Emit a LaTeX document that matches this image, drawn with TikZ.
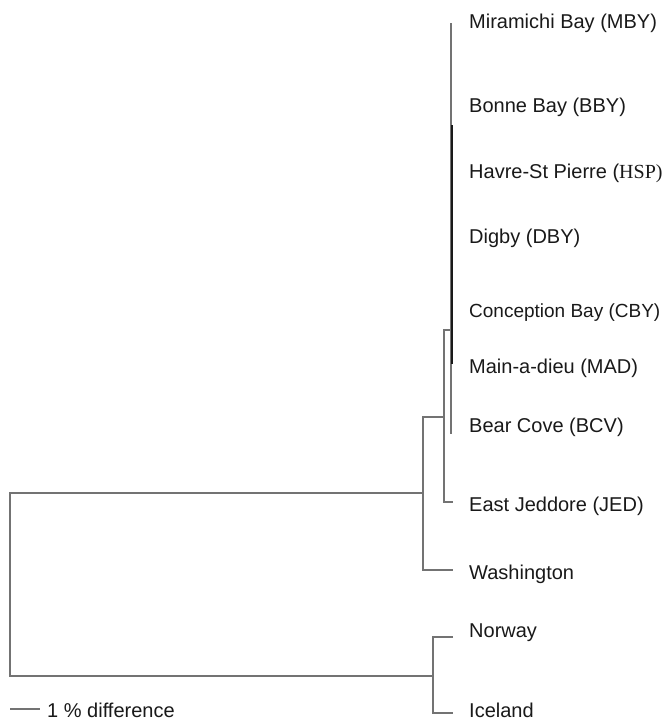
\documentclass[tikz,border=0pt]{standalone}
\usepackage{fontspec}
\setmainfont{Liberation Sans}
\newfontfamily\serifpart{Liberation Serif}
\usetikzlibrary{positioning}
\tikzset{
	branch/.style={draw=black!55, line width=1.4pt},
	taxon/.style={anchor=base west, inner sep=0pt, text=black!90,
		font=\fontsize{20}{22}\selectfont}
}
\begin{document}
\begin{tikzpicture}[x=1pt, y=-1pt]
		\useasboundingbox (0,0) rectangle (662,720);
		% inner nodes of the tree
		\coordinate (root) at (10,585);
		\coordinate (amer) at (423,493);
		\coordinate (noric) at (433,676);
		\coordinate (jedcl) at (444,417);
		\coordinate (bays) at (451,330);
		\coordinate (baytop) at (451,23);
		\coordinate (baybot) at (451,434);
		% leaf tips
		\coordinate (jedtip) at (453,502);
		\coordinate (washtip) at (453,570);
		\coordinate (nortip) at (453,637);
		\coordinate (icetip) at (453,713);
		% taxa
		\node[taxon] (mby) at (469,28) {Miramichi Bay (MBY)};
		\node[taxon] (bby) at (469,112) {Bonne Bay (BBY)};
		\node[taxon] (hsp) at (469,178) {Havre-St Pierre ({\serifpart HSP)}};
		\node[taxon] (dby) at (469,243) {Digby (DBY)};
		\node[taxon, font=\fontsize{19}{22}\selectfont] (cby) at (469,317) {Conception Bay (CBY)};
		\node[taxon] (mad) at (469,373) {Main-a-dieu (MAD)};
		\node[taxon] (bcv) at (469,432) {Bear Cove (BCV)};
		\node[taxon] (jed) at (469,511) {East Jeddore (JED)};
		\node[taxon] (wash) at (469,579) {Washington};
		\node[taxon] (nor) at (469,637) {Norway};
		\node[taxon] (ice) at (469,717) {Iceland};
		% branches
		\draw[branch] (amer) -| (root) |- (noric);
		\draw[branch] (jedcl) -| (amer) |- (washtip);
		\draw[branch] (bays) -| (jedcl) |- (jedtip);
		\draw[branch] (baytop) -- (baybot);
		\draw[black!90, line width=1.8pt] ([xshift=1pt]baytop |- 0,125) -- ([xshift=1pt]baytop |- 0,364);
		\draw[branch] (nortip) -| (noric) |- (icetip);
		% scale bar
		\coordinate (bar) at (10,709);
		\node[taxon] (scl) at (47,717) {1 \% difference};
		\draw[branch, line width=1.2pt] (bar) -- (40,709);
\end{tikzpicture}
\end{document}
